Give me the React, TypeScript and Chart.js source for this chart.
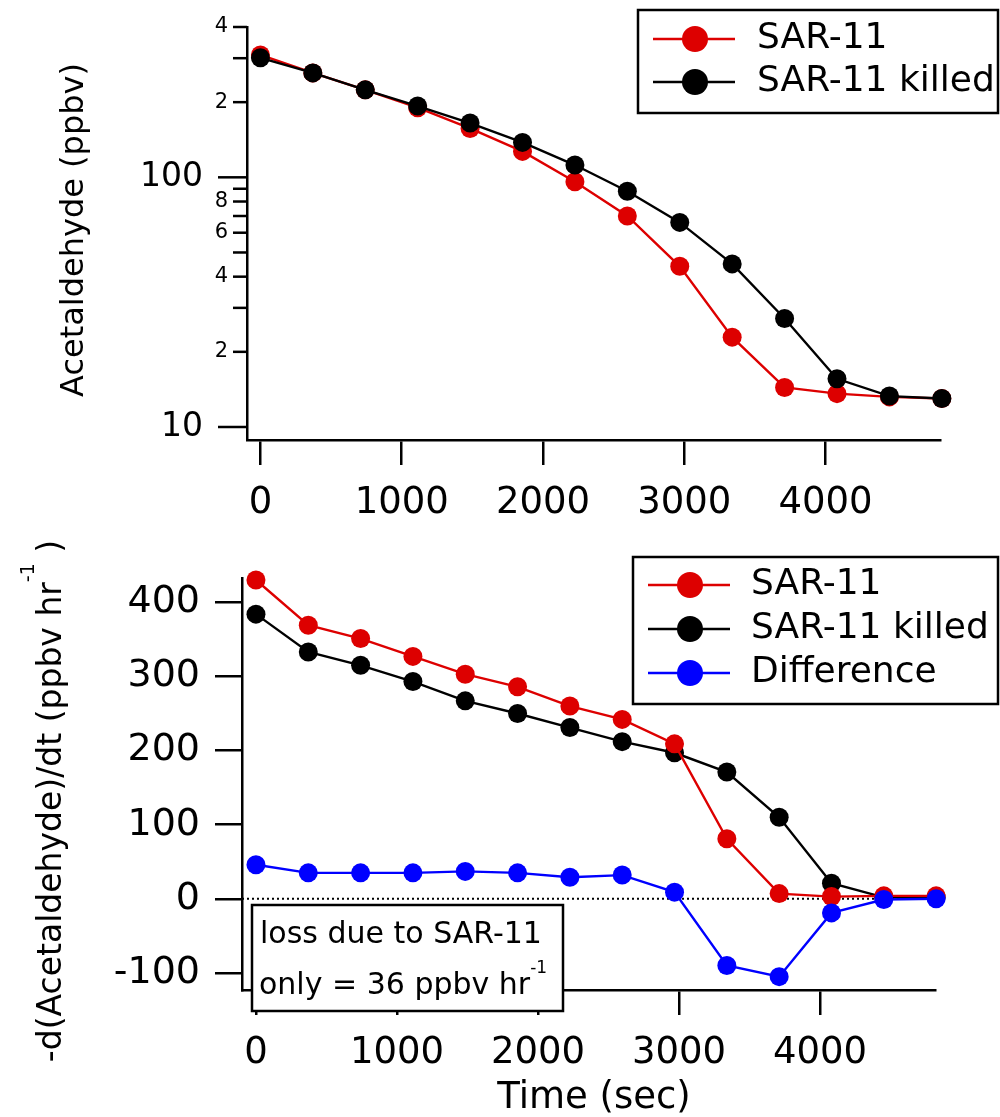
import React, { useEffect, useRef } from "react";
import { Chart, registerables } from "chart.js";
Chart.register(...registerables);

const FONT = "'DejaVu Sans', sans-serif";
const RED = "#dd0000";
const BLACK = "#000000";
const BLUE = "#0000ff";

// ---- data ----
const timeSec = [0, 371, 742, 1113, 1484, 1855, 2226, 2597, 2968, 3339, 3710, 4081, 4452, 4823];
const sar11Conc = [309, 262, 224, 190, 157, 127, 96, 70, 44, 22.9, 14.4, 13.6, 13.2, 13.0];
const killedConc = [301, 262, 224, 193, 165, 138, 112, 88, 66, 45, 27.2, 15.6, 13.3, 13.0];
const sar11Rate = [430, 369, 351, 327, 303, 286, 260, 242, 209, 81, 7, 3, 4, 4];
const killedRate = [384, 333, 315, 293, 267, 250, 231, 212, 197, 171, 110, 21, 2, 2];
const diffRate = [46, 35, 35, 35, 37, 35, 29, 32, 9, -90, -105, -19, -1, 0];

const xTicks = [0, 1000, 2000, 3000, 4000];
const concTicks = [10, 20, 30, 40, 50, 60, 70, 80, 90, 100, 200, 300, 400];
const concTickLabels = ["10", "2", "", "4", "", "6", "", "8", "", "100", "2", "", "4"];
const rateTicks = [-100, 0, 100, 200, 300, 400];

const seriesNames = ["SAR-11", "SAR-11 killed", "Difference"];
const topYTitle = "Acetaldehyde (ppbv)";
const botYTitleParts = ["-d(Acetaldehyde)/dt (ppbv hr", "-1", " )"];
const xTitle = "Time (sec)";
const noteLine1 = "loss due to SAR-11";
const noteLine2Parts = ["only = 36 ppbv hr", "-1"];

function series(label: string, values: number[], color: string, order: number) {
  return {
    label,
    data: timeSec.map((t, i) => ({ x: t, y: values[i] })),
    borderColor: color,
    backgroundColor: color,
    pointBackgroundColor: color,
    pointBorderColor: color,
    pointRadius: 9.5,
    pointBorderWidth: 0,
    borderWidth: 2.4,
    tension: 0,
    clip: false as any,
    order,
  };
}

function drawLegend(ctx: CanvasRenderingContext2D, datasets: any[], box: any, rows: number[], lx0: number, lx1: number, mx: number, tx: number) {
  ctx.save();
  ctx.fillStyle = "#fff";
  ctx.fillRect(box.l, box.t, box.r - box.l, box.b - box.t);
  ctx.strokeStyle = BLACK;
  ctx.lineWidth = 2.5;
  ctx.strokeRect(box.l, box.t, box.r - box.l, box.b - box.t);
  datasets.forEach((ds, i) => {
    const y = rows[i];
    ctx.strokeStyle = ds.borderColor;
    ctx.lineWidth = 2.4;
    ctx.beginPath();
    ctx.moveTo(lx0, y);
    ctx.lineTo(lx1, y);
    ctx.stroke();
    ctx.fillStyle = ds.borderColor;
    ctx.beginPath();
    ctx.arc(mx, y, 13, 0, Math.PI * 2);
    ctx.fill();
    ctx.fillStyle = BLACK;
    ctx.font = `36px ${FONT}`;
    ctx.textAlign = "left";
    ctx.textBaseline = "middle";
    ctx.fillText(ds.label, tx, y);
  });
  ctx.restore();
}

function drawParts(ctx: CanvasRenderingContext2D, parts: { text: string; size: number; rise: number }[], x: number, y: number, center: boolean) {
  let total = 0;
  const widths = parts.map((p) => {
    ctx.font = `${p.size}px ${FONT}`;
    const w = ctx.measureText(p.text).width;
    total += w;
    return w;
  });
  let cx = center ? x - total / 2 : x;
  ctx.textAlign = "left";
  ctx.textBaseline = "alphabetic";
  parts.forEach((p, i) => {
    ctx.font = `${p.size}px ${FONT}`;
    ctx.fillText(p.text, cx, y - p.rise);
    cx += widths[i];
  });
}

const topPlugin = {
  id: "topDecor",
  afterDraw(chart: any) {
    const ctx: CanvasRenderingContext2D = chart.ctx;
    const ys = chart.scales.y;
    const x0 = chart.chartArea.left;
    ctx.save();
    ctx.strokeStyle = BLACK;
    ctx.fillStyle = BLACK;
    ctx.lineWidth = 2.5;
    concTicks.forEach((v, i) => {
      const y = ys.getPixelForValue(v);
      const major = Number.isInteger(Math.log10(v));
      const len = major ? 29 : 14;
      ctx.beginPath();
      ctx.moveTo(x0 - len, y);
      ctx.lineTo(x0, y);
      ctx.stroke();
      const lab = concTickLabels[i];
      if (lab) {
        ctx.font = `${major ? 33 : 21}px ${FONT}`;
        ctx.textAlign = "right";
        ctx.textBaseline = "middle";
        ctx.fillText(lab, x0 - (major ? 44 : 19), y);
      }
    });
    // y title
    ctx.save();
    ctx.translate(83, 230);
    ctx.rotate(-Math.PI / 2);
    ctx.font = `32px ${FONT}`;
    ctx.textAlign = "center";
    ctx.textBaseline = "alphabetic";
    ctx.fillText(topYTitle, 0, 0);
    ctx.restore();
    ctx.restore();
    drawLegend(ctx, chart.data.datasets, { l: 638, t: 10, r: 998, b: 113 }, [39, 82], 653, 735, 695, 757);
  },
};

const bottomPlugin = {
  id: "botDecor",
  beforeDatasetsDraw(chart: any) {
    const ctx: CanvasRenderingContext2D = chart.ctx;
    const y = chart.scales.y.getPixelForValue(0);
    ctx.save();
    ctx.strokeStyle = BLACK;
    ctx.lineWidth = 2;
    ctx.setLineDash([2, 3]);
    ctx.beginPath();
    ctx.moveTo(chart.chartArea.left, y);
    ctx.lineTo(chart.chartArea.right, y);
    ctx.stroke();
    ctx.restore();
  },
  afterDraw(chart: any) {
    const ctx: CanvasRenderingContext2D = chart.ctx;
    ctx.save();
    // annotation box
    ctx.fillStyle = "#fff";
    ctx.fillRect(252, 365, 311, 106);
    ctx.strokeStyle = BLACK;
    ctx.lineWidth = 2.5;
    ctx.strokeRect(252, 365, 311, 106);
    ctx.fillStyle = BLACK;
    ctx.font = `30px ${FONT}`;
    ctx.textAlign = "left";
    ctx.textBaseline = "alphabetic";
    ctx.fillText(noteLine1, 260, 403);
    drawParts(ctx, [
      { text: noteLine2Parts[0], size: 30, rise: 0 },
      { text: noteLine2Parts[1], size: 17, rise: 21 },
    ], 259, 454, false);
    // y title
    ctx.save();
    ctx.translate(61, 261);
    ctx.rotate(-Math.PI / 2);
    drawParts(ctx, [
      { text: botYTitleParts[0], size: 33, rise: 0 },
      { text: botYTitleParts[1], size: 19, rise: 27 },
      { text: botYTitleParts[2], size: 33, rise: 0 },
    ], 0, 0, true);
    ctx.restore();
    // x title
    ctx.font = `37px ${FONT}`;
    ctx.textAlign = "center";
    ctx.textBaseline = "alphabetic";
    ctx.fillText(xTitle, 594, 568);
    ctx.restore();
    drawLegend(ctx, chart.data.datasets, { l: 633, t: 17, r: 998, b: 164 }, [45, 89, 133], 648, 730, 690, 751);
  },
};

function xScale(min: number, max: number, height: number) {
  return {
    type: "linear" as const,
    position: "bottom" as const,
    min,
    max,
    afterBuildTicks: (s: any) => {
      s.ticks = xTicks.map((v) => ({ value: v }));
    },
    afterFit: (s: any) => {
      s.height = height;
    },
    grid: { display: true, drawOnChartArea: false, drawTicks: true, tickLength: 25, color: BLACK, lineWidth: 2.5 },
    border: { display: true, color: BLACK, width: 2.5 },
    ticks: {
      color: BLACK,
      font: { family: FONT, size: 37 },
      padding: 16,
      maxRotation: 0,
      autoSkip: false,
      callback: (v: any) => String(v),
    },
  };
}

export default function App() {
  const topRef = useRef<HTMLCanvasElement>(null);
  const botRef = useRef<HTMLCanvasElement>(null);

  useEffect(() => {
    const common = {
      animation: false as const,
      responsive: false,
      devicePixelRatio: 1,
      events: [] as any[],
    };
    const c1 = new Chart(topRef.current!, {
      type: "line",
      data: {
        datasets: [series(seriesNames[0], sar11Conc, RED, 1), series(seriesNames[1], killedConc, BLACK, 0)] as any,
      },
      options: {
        ...common,
        layout: { padding: { top: 27, right: 60, left: 0, bottom: 0 }, autoPadding: false } as any,
        plugins: { legend: { display: false }, tooltip: { enabled: false } },
        scales: {
          x: xScale(-95, 4810, 100) as any,
          y: {
            type: "logarithmic",
            position: "left",
            min: 8.87,
            max: 400,
            afterBuildTicks: (s: any) => {
              s.ticks = concTicks.map((v) => ({ value: v }));
            },
            afterFit: (s: any) => {
              s.width = 247;
            },
            grid: { display: false },
            border: { display: true, color: BLACK, width: 2.5 },
            ticks: { display: false },
          } as any,
        },
      },
      plugins: [topPlugin],
    });
    const c2 = new Chart(botRef.current!, {
      type: "line",
      data: {
        datasets: [
          series(seriesNames[0], sar11Rate, RED, 1),
          series(seriesNames[1], killedRate, BLACK, 2),
          series(seriesNames[2], diffRate, BLUE, 0),
        ] as any,
      },
      options: {
        ...common,
        layout: { padding: { top: 30, right: 65, left: 0, bottom: 0 }, autoPadding: false } as any,
        plugins: { legend: { display: false }, tooltip: { enabled: false } },
        scales: {
          x: xScale(-99, 4815, 127) as any,
          y: {
            type: "linear",
            position: "left",
            min: -123,
            max: 433,
            afterBuildTicks: (s: any) => {
              s.ticks = rateTicks.map((v) => ({ value: v }));
            },
            afterFit: (s: any) => {
              s.width = 242;
            },
            grid: { display: true, drawOnChartArea: false, drawTicks: true, tickLength: 27, color: BLACK, lineWidth: 2.5 },
            border: { display: true, color: BLACK, width: 2.5 },
            ticks: {
              color: BLACK,
              font: { family: FONT, size: 38 },
              padding: 15,
              autoSkip: false,
              callback: (v: any) => String(v),
            },
          } as any,
        },
      },
      plugins: [bottomPlugin],
    });
    return () => {
      c1.destroy();
      c2.destroy();
    };
  }, []);

  return (
    <div style={{ position: "absolute", left: 0, top: 0, width: 1000, height: 1117, background: "#fff", overflow: "hidden" }}>
      <canvas ref={topRef} width={1000} height={540} style={{ position: "absolute", left: 0, top: 0, display: "block" }} />
      <canvas ref={botRef} width={1000} height={577} style={{ position: "absolute", left: 0, top: 540, display: "block" }} />
    </div>
  );
}
